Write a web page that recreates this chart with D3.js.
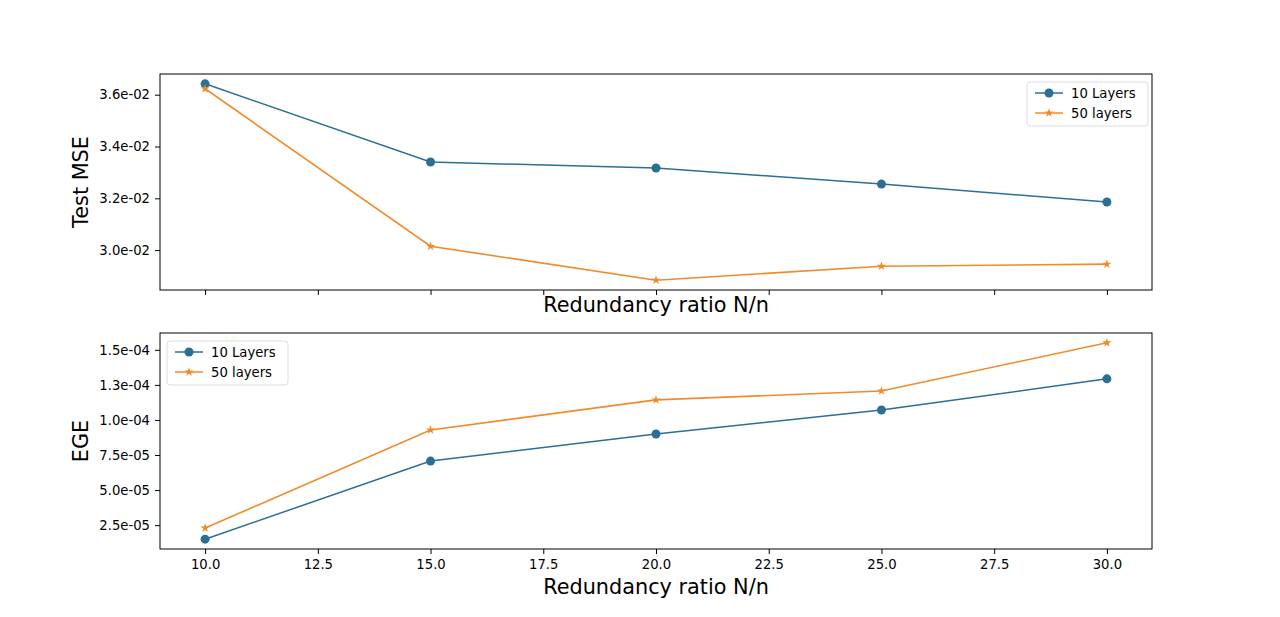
<!DOCTYPE html>
<html>
<head>
<meta charset="utf-8">
<script src="https://cdn.jsdelivr.net/npm/d3@7"></script>
<style>
  body { margin: 0; background: #fff; }
  svg { font-family: "DejaVu Sans", sans-serif; }
  .domain { display: none; }
</style>
</head>
<body>
<svg id="chart" width="1280" height="617"></svg>
<script>
// Data
const ratios = [10, 15, 20, 25, 30];
const mse10 = [0.03642, 0.03340, 0.03317, 0.03255, 0.03186];
const mse50 = [0.03623, 0.03015, 0.02884, 0.02938, 0.02946];
const ege10 = [1.50e-5, 7.07e-5, 9.00e-5, 1.071e-4, 1.293e-4];
const ege50 = [2.29e-5, 9.29e-5, 1.143e-4, 1.207e-4, 1.55e-4];
const xTicks = [10, 12.5, 15, 17.5, 20, 22.5, 25, 27.5, 30];
const mseTicks = [0.030, 0.032, 0.034, 0.036];
const egeTicks = [2.5e-5, 5e-5, 7.5e-5, 1e-4, 1.25e-4, 1.5e-4];
const seriesNames = ['10 Layers', '50 layers'];

const blue = '#2b6f94';
const orange = '#f08a2a';

const svg = d3.select('#chart');
const left = 160, right = 1152;

const x = d3.scaleLinear().domain([9, 31]).range([left, right]);

// matplotlib-like 5% padding
function padded(vals) {
    const [lo, hi] = d3.extent(vals);
    const m = (hi - lo) * 0.05;
    return [lo - m, hi + m];
}

function sci(d) {
    const [m, e] = d3.format('.1e')(d).split('e');
    const n = parseInt(e, 10);
    return m + 'e' + (n < 0 ? '-' : '+') + String(Math.abs(n)).padStart(2, '0');
}

function styleAxis(a) {
    a.attr('font-family', '"DejaVu Sans", sans-serif').attr('font-size', 13.2);
    a.selectAll('.tick text').attr('fill', '#000');
    a.selectAll('.tick line').attr('stroke', '#000');
}

function drawPanel(top, bottom, s1, s2, yTicks, ylabel, showXLabels, xlabelY, legendPos) {
    const y = d3.scaleLinear().domain(padded(s1.concat(s2))).range([bottom, top]);
    const g = svg.append('g');

    // x axis
    g.append('g').attr('transform', `translate(0,${bottom})`)
        .call(d3.axisBottom(x).tickValues(xTicks).tickSize(5).tickPadding(6)
            .tickFormat(showXLabels ? d3.format('.1f') : () => ''))
        .call(styleAxis);
    // y axis
    g.append('g').attr('transform', `translate(${left},0)`)
        .call(d3.axisLeft(y).tickValues(yTicks).tickSize(5).tickPadding(5).tickFormat(sci))
        .call(styleAxis);

    // lines
    const line = d3.line().x((d, i) => x(ratios[i])).y(d => y(d));
    g.append('path').datum(s1).attr('d', line).attr('fill', 'none')
        .attr('stroke', blue).attr('stroke-width', 1.5);
    g.append('path').datum(s2).attr('d', line).attr('fill', 'none')
        .attr('stroke', orange).attr('stroke-width', 1.6);

    g.selectAll('.m1').data(s1).enter().append('circle')
        .attr('cx', (d, i) => x(ratios[i])).attr('cy', d => y(d))
        .attr('r', 4.5).attr('fill', blue);
    const star = d3.symbol().type(d3.symbolStar).size(26);
    g.selectAll('.m2').data(s2).enter().append('path')
        .attr('d', star)
        .attr('transform', (d, i) => `translate(${x(ratios[i])},${y(d)})`)
        .attr('fill', orange);

    // frame
    g.append('rect').attr('x', left).attr('y', top)
        .attr('width', right - left).attr('height', bottom - top)
        .attr('fill', 'none').attr('stroke', '#000').attr('stroke-width', 1);

    // labels
    g.append('text').attr('x', 656).attr('y', xlabelY)
        .attr('text-anchor', 'middle').attr('font-size', 20.8)
        .text('Redundancy ratio N/n');
    g.append('text')
        .attr('transform', `translate(88,${(top + bottom) / 2}) rotate(-90)`)
        .attr('text-anchor', 'middle').attr('font-size', 20.8)
        .text(ylabel);

    // legend
    const lg = g.append('g').attr('transform', `translate(${legendPos[0]},${legendPos[1]})`);
    lg.append('rect').attr('width', 121).attr('height', 44).attr('rx', 3)
        .attr('fill', '#fff').attr('fill-opacity', 0.8).attr('stroke', '#ddd');
    seriesNames.forEach((name, i) => {
        const yy = 11 + i * 20;
        const c = i === 0 ? blue : orange;
        lg.append('line').attr('x1', 8).attr('x2', 36).attr('y1', yy).attr('y2', yy)
            .attr('stroke', c).attr('stroke-width', 1.5);
        if (i === 0) {
            lg.append('circle').attr('cx', 22).attr('cy', yy).attr('r', 4.5).attr('fill', c);
        } else {
            lg.append('path').attr('d', star).attr('transform', `translate(22,${yy})`).attr('fill', c);
        }
        lg.append('text').attr('x', 44).attr('y', yy + 5).attr('font-size', 13.2).text(name);
    });
}

drawPanel(74, 290, mse10, mse50, mseTicks, 'Test MSE', false, 312, [1027, 82]);
drawPanel(333, 549, ege10, ege50, egeTicks, 'EGE', true, 594, [167, 341]);
</script>
</body>
</html>
